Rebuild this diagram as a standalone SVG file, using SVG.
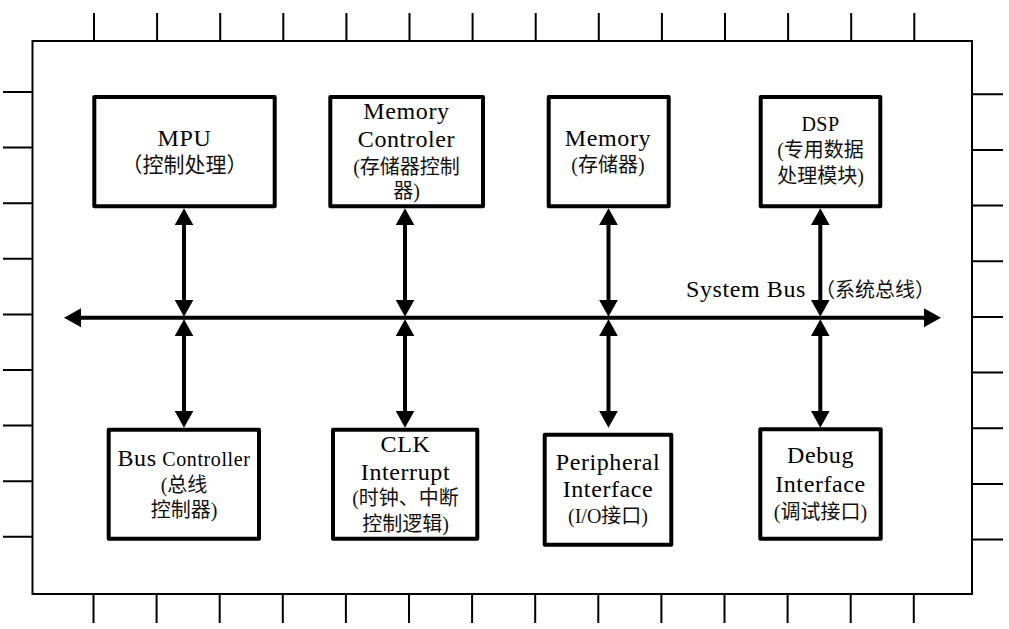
<svg xmlns="http://www.w3.org/2000/svg" width="1009" height="629" viewBox="0 0 1009 629">
<style>
.pin{stroke:#000;stroke-width:2;fill:none}
.frame{fill:#fff;stroke:#000;stroke-width:2}
.box{fill:#fff;stroke:#000;stroke-width:4;stroke-linejoin:round}
.conn{stroke:#000;stroke-width:4;fill:none;marker-start:url(#ah);marker-end:url(#ah)}
.en{font-family:"Liberation Serif","Noto Sans CJK SC",serif;font-size:24px;letter-spacing:0.6px;fill:#000;text-anchor:middle}
.cn{font-family:"Liberation Serif","Noto Sans CJK SC",serif;font-size:20px;fill:#111;text-anchor:middle;text-spacing-trim:space-all;font-kerning:none}
</style>
<defs>
<marker id="ah" viewBox="0 0 17 19" refX="12" refY="9.5" markerWidth="17" markerHeight="19" markerUnits="userSpaceOnUse" orient="auto-start-reverse">
<path d="M0,0 L17,9.5 L0,19 Z" fill="#000"/>
</marker>
</defs>
<rect width="1009" height="629" fill="#fff"/>
<g id="pins">
<path class="pin" d="M94,13V41 M157.1,13V41 M220.2,13V41 M283.3,13V41 M346.4,13V41 M409.5,13V41 M472.6,13V41 M535.7,13V41 M598.8,13V41 M661.9,13V41 M725,13V41 M788.1,13V41 M851.2,13V41 M914.3,13V41"/>
<path class="pin" d="M93.5,594V623 M156.6,594V623 M219.7,594V623 M282.8,594V623 M345.9,594V623 M409,594V623 M472.1,594V623 M535.2,594V623 M598.3,594V623 M661.4,594V623 M724.5,594V623 M787.6,594V623 M850.7,594V623 M913.8,594V623"/>
<path class="pin" d="M3,92H33 M3,147.6H33 M3,203.2H33 M3,258.8H33 M3,314.4H33 M3,370H33 M3,425.6H33 M3,481.2H33 M3,536.8H33"/>
<path class="pin" d="M972,94.3H1003 M972,150H1003 M972,205.6H1003 M972,261.3H1003 M972,316.9H1003 M972,372.6H1003 M972,428.2H1003 M972,483.9H1003 M972,539.5H1003"/>
</g>
<rect id="chip" class="frame" x="32.5" y="41" width="939.5" height="553"/>
<g id="connectors">
<line class="conn" x1="69" y1="317.7" x2="936" y2="317.7"/>
<line class="conn" x1="184" y1="213.3" x2="184" y2="311.7"/>
<line class="conn" x1="405" y1="213.3" x2="405" y2="311.7"/>
<line class="conn" x1="608.5" y1="213.3" x2="608.5" y2="311.7"/>
<line class="conn" x1="820.3" y1="213.3" x2="820.3" y2="311.7"/>
<line class="conn" x1="184" y1="324.3" x2="184" y2="422.7"/>
<line class="conn" x1="405" y1="324.3" x2="405" y2="422.7"/>
<line class="conn" x1="608.5" y1="324.3" x2="608.5" y2="422.7"/>
<line class="conn" x1="820.3" y1="324.3" x2="820.3" y2="422.7"/>
</g>
<g id="bus-label">
<text class="en" x="746" y="296.7">System Bus</text>
<text class="cn" x="815" y="296.5" style="text-anchor:start">（系统总线）</text>
</g>
<g id="mpu">
<rect class="box" x="94.3" y="97" width="180.4" height="109.3"/>
<text class="en" x="184.5" y="146">MPU</text>
<text class="cn" x="184.5" y="171.7" style="font-size:21px">（控制处理）</text>
</g>
<g id="memctrl">
<rect class="box" x="330.3" y="97" width="152.7" height="109.3"/>
<text class="en" x="406.5" y="119.3">Memory</text>
<text class="en" x="406.5" y="146.7">Controler</text>
<text class="cn" x="406.5" y="173.5">(存储器控制</text>
<text class="cn" x="406.5" y="197.8">器)</text>
</g>
<g id="memory">
<rect class="box" x="548.7" y="97" width="120" height="109.3"/>
<text class="en" x="608" y="146">Memory</text>
<text class="cn" x="608" y="171.7">(存储器)</text>
</g>
<g id="dsp">
<rect class="box" x="760.7" y="97" width="119.6" height="109.3"/>
<text class="en" x="820.5" y="131" style="font-size:20px;letter-spacing:0.5px">DSP</text>
<text class="cn" x="820.5" y="156.7">(专用数据</text>
<text class="cn" x="820.5" y="182.7">处理模块)</text>
</g>
<g id="busctrl">
<rect class="box" x="108.7" y="429.7" width="150.3" height="109"/>
<text class="en" x="184" y="465.7">Bus<tspan style="font-size:20px"> Controller</tspan></text>
<text class="cn" x="184" y="491.8">(总线</text>
<text class="cn" x="184" y="516.8">控制器)</text>
</g>
<g id="clk">
<rect class="box" x="333" y="429.7" width="144.3" height="109"/>
<text class="en" x="405.5" y="451.7">CLK</text>
<text class="en" x="405.5" y="480">Interrupt</text>
<text class="cn" x="405.5" y="505.2">(时钟、中断</text>
<text class="cn" x="405.5" y="530.8">控制逻辑)</text>
</g>
<g id="peripheral">
<rect class="box" x="544.7" y="434.7" width="126.6" height="110"/>
<text class="en" x="608" y="470">Peripheral</text>
<text class="en" x="608" y="497.3">Interface</text>
<text class="cn" x="608" y="523.3">(I/O接口)</text>
</g>
<g id="debug">
<rect class="box" x="760.3" y="429.3" width="120.4" height="109.4"/>
<text class="en" x="820.5" y="463.3">Debug</text>
<text class="en" x="820.5" y="492.3">Interface</text>
<text class="cn" x="820.5" y="518.7">(调试接口)</text>
</g>
</svg>
